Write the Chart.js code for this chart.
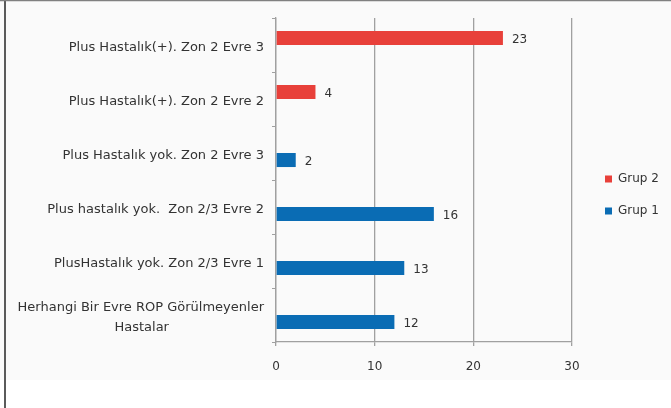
<!DOCTYPE html>
<html>
<head>
<meta charset="utf-8">
<script src="https://cdn.jsdelivr.net/npm/chart.js@4.4.0/dist/chart.umd.min.js"></script>
<style>
    html, body { margin: 0; padding: 0; background: #fff; }
    canvas { display: block; }
</style>
</head>
<body>
<canvas id="barChart" width="671" height="408"></canvas>
<script>
// chart data
const categories = [
    'Plus Hastalık(+). Zon 2 Evre 3',
    'Plus Hastalık(+). Zon 2 Evre 2',
    'Plus Hastalık yok. Zon 2 Evre 3',
    'Plus hastalık yok.  Zon 2/3 Evre 2',
    'PlusHastalık yok. Zon 2/3 Evre 1',
    ['Herhangi Bir Evre ROP Görülmeyenler', 'Hastalar' + '\u00a0'.repeat(23)]
];
const grup2Values = [23, 4, null, null, null, null];
const grup1Values = [null, null, 2, 16, 13, 12];
const xTicks = [0, 10, 20, 30];

Chart.defaults.font.family = "'DejaVu Sans', sans-serif";
Chart.defaults.color = '#333333';

// page background and the frame lines on the left and top
const backgroundPlugin = {
    id: 'background',
    beforeDraw(chart) {
        const ctx = chart.ctx;
        ctx.save();
        ctx.fillStyle = '#ffffff';
        ctx.fillRect(0, 0, chart.width, chart.height);
        ctx.fillStyle = '#fafafa';
        ctx.fillRect(0, 0, chart.width, 380);
        ctx.strokeStyle = '#5a5a5a';
        ctx.lineWidth = 2;
        ctx.beginPath();
        ctx.moveTo(5, 0);
        ctx.lineTo(5, chart.height);
        ctx.stroke();
        ctx.strokeStyle = '#808080';
        ctx.lineWidth = 1.5;
        ctx.beginPath();
        ctx.moveTo(0, 0.5);
        ctx.lineTo(chart.width, 0.5);
        ctx.stroke();
        ctx.restore();
    }
};

// values written next to the end of each bar
const valueLabelPlugin = {
    id: 'valueLabels',
    afterDatasetsDraw(chart) {
        const ctx = chart.ctx;
        ctx.save();
        ctx.font = "12px 'DejaVu Sans'";
        ctx.fillStyle = '#333333';
        ctx.textAlign = 'left';
        ctx.textBaseline = 'middle';
        chart.data.datasets.forEach((ds, di) => {
            const meta = chart.getDatasetMeta(di);
            meta.data.forEach((bar, i) => {
                const v = ds.data[i];
                if (v === null || v === undefined) return;
                ctx.fillText(String(v), bar.x + 9, bar.y + 2);
            });
        });
        ctx.restore();
    }
};

// move the legend next to the plot like in the original
const legendPlacePlugin = {
    id: 'legendPlace',
    afterLayout(chart) {
        const lg = chart.legend;
        if (!lg) return;
        const w = lg.right - lg.left;
        const h = lg.bottom - lg.top;
        lg.left = 585;
        lg.right = lg.left + w;
        lg.top = 153;
        lg.bottom = lg.top + h;
    }
};

const ctx = document.getElementById('barChart').getContext('2d');
const chart = new Chart(ctx, {
    type: 'bar',
    data: {
        labels: categories,
        datasets: [
            {
                label: 'Grup 2',
                data: grup2Values,
                backgroundColor: '#e8403a',
                categoryPercentage: 0.52,
                barPercentage: 1.0
            },
            {
                label: 'Grup 1',
                data: grup1Values,
                backgroundColor: '#0a6cb4',
                categoryPercentage: 0.52,
                barPercentage: 1.0
            }
        ]
    },
    options: {
        indexAxis: 'y',
        responsive: false,
        animation: false,
        layout: {
            padding: { left: 0, right: 0, top: 18, bottom: 0 }
        },
        plugins: {
            legend: {
                position: 'right',
                align: 'start',
                labels: {
                    boxWidth: 7,
                    boxHeight: 7,
                    padding: 20,
                    color: '#333333',
                    font: { size: 12 }
                }
            },
            tooltip: { enabled: false }
        },
        scales: {
            x: {
                min: xTicks[0],
                max: xTicks[xTicks.length - 1],
                ticks: {
                    stepSize: xTicks[1] - xTicks[0],
                    padding: 14,
                    color: '#333333',
                    font: { size: 12 }
                },
                grid: {
                    color: '#a0a0a0',
                    lineWidth: 1.3,
                    tickLength: 4,
                    drawTicks: true
                },
                border: { color: '#a0a0a0', width: 1.3 },
                afterFit(scale) {
                    scale.height = 66;
                    // keep the plot's right edge where the original has it
                    scale.paddingRight = 99;
                }
            },
            y: {
                ticks: {
                    padding: 8,
                    labelOffset: 3,
                    color: '#333333',
                    font: { size: 13, lineHeight: 1.55 }
                },
                grid: {
                    drawOnChartArea: false,
                    color: '#a0a0a0',
                    tickLength: 4,
                    offset: true
                },
                border: { color: '#a0a0a0', width: 1.3 },
                afterFit(scale) {
                    scale.width = 276;
                    scale.paddingTop = 0;
                    scale.paddingBottom = 0;
                }
            }
        }
    },
    plugins: [backgroundPlugin, valueLabelPlugin, legendPlacePlugin]
});
</script>
</body>
</html>
